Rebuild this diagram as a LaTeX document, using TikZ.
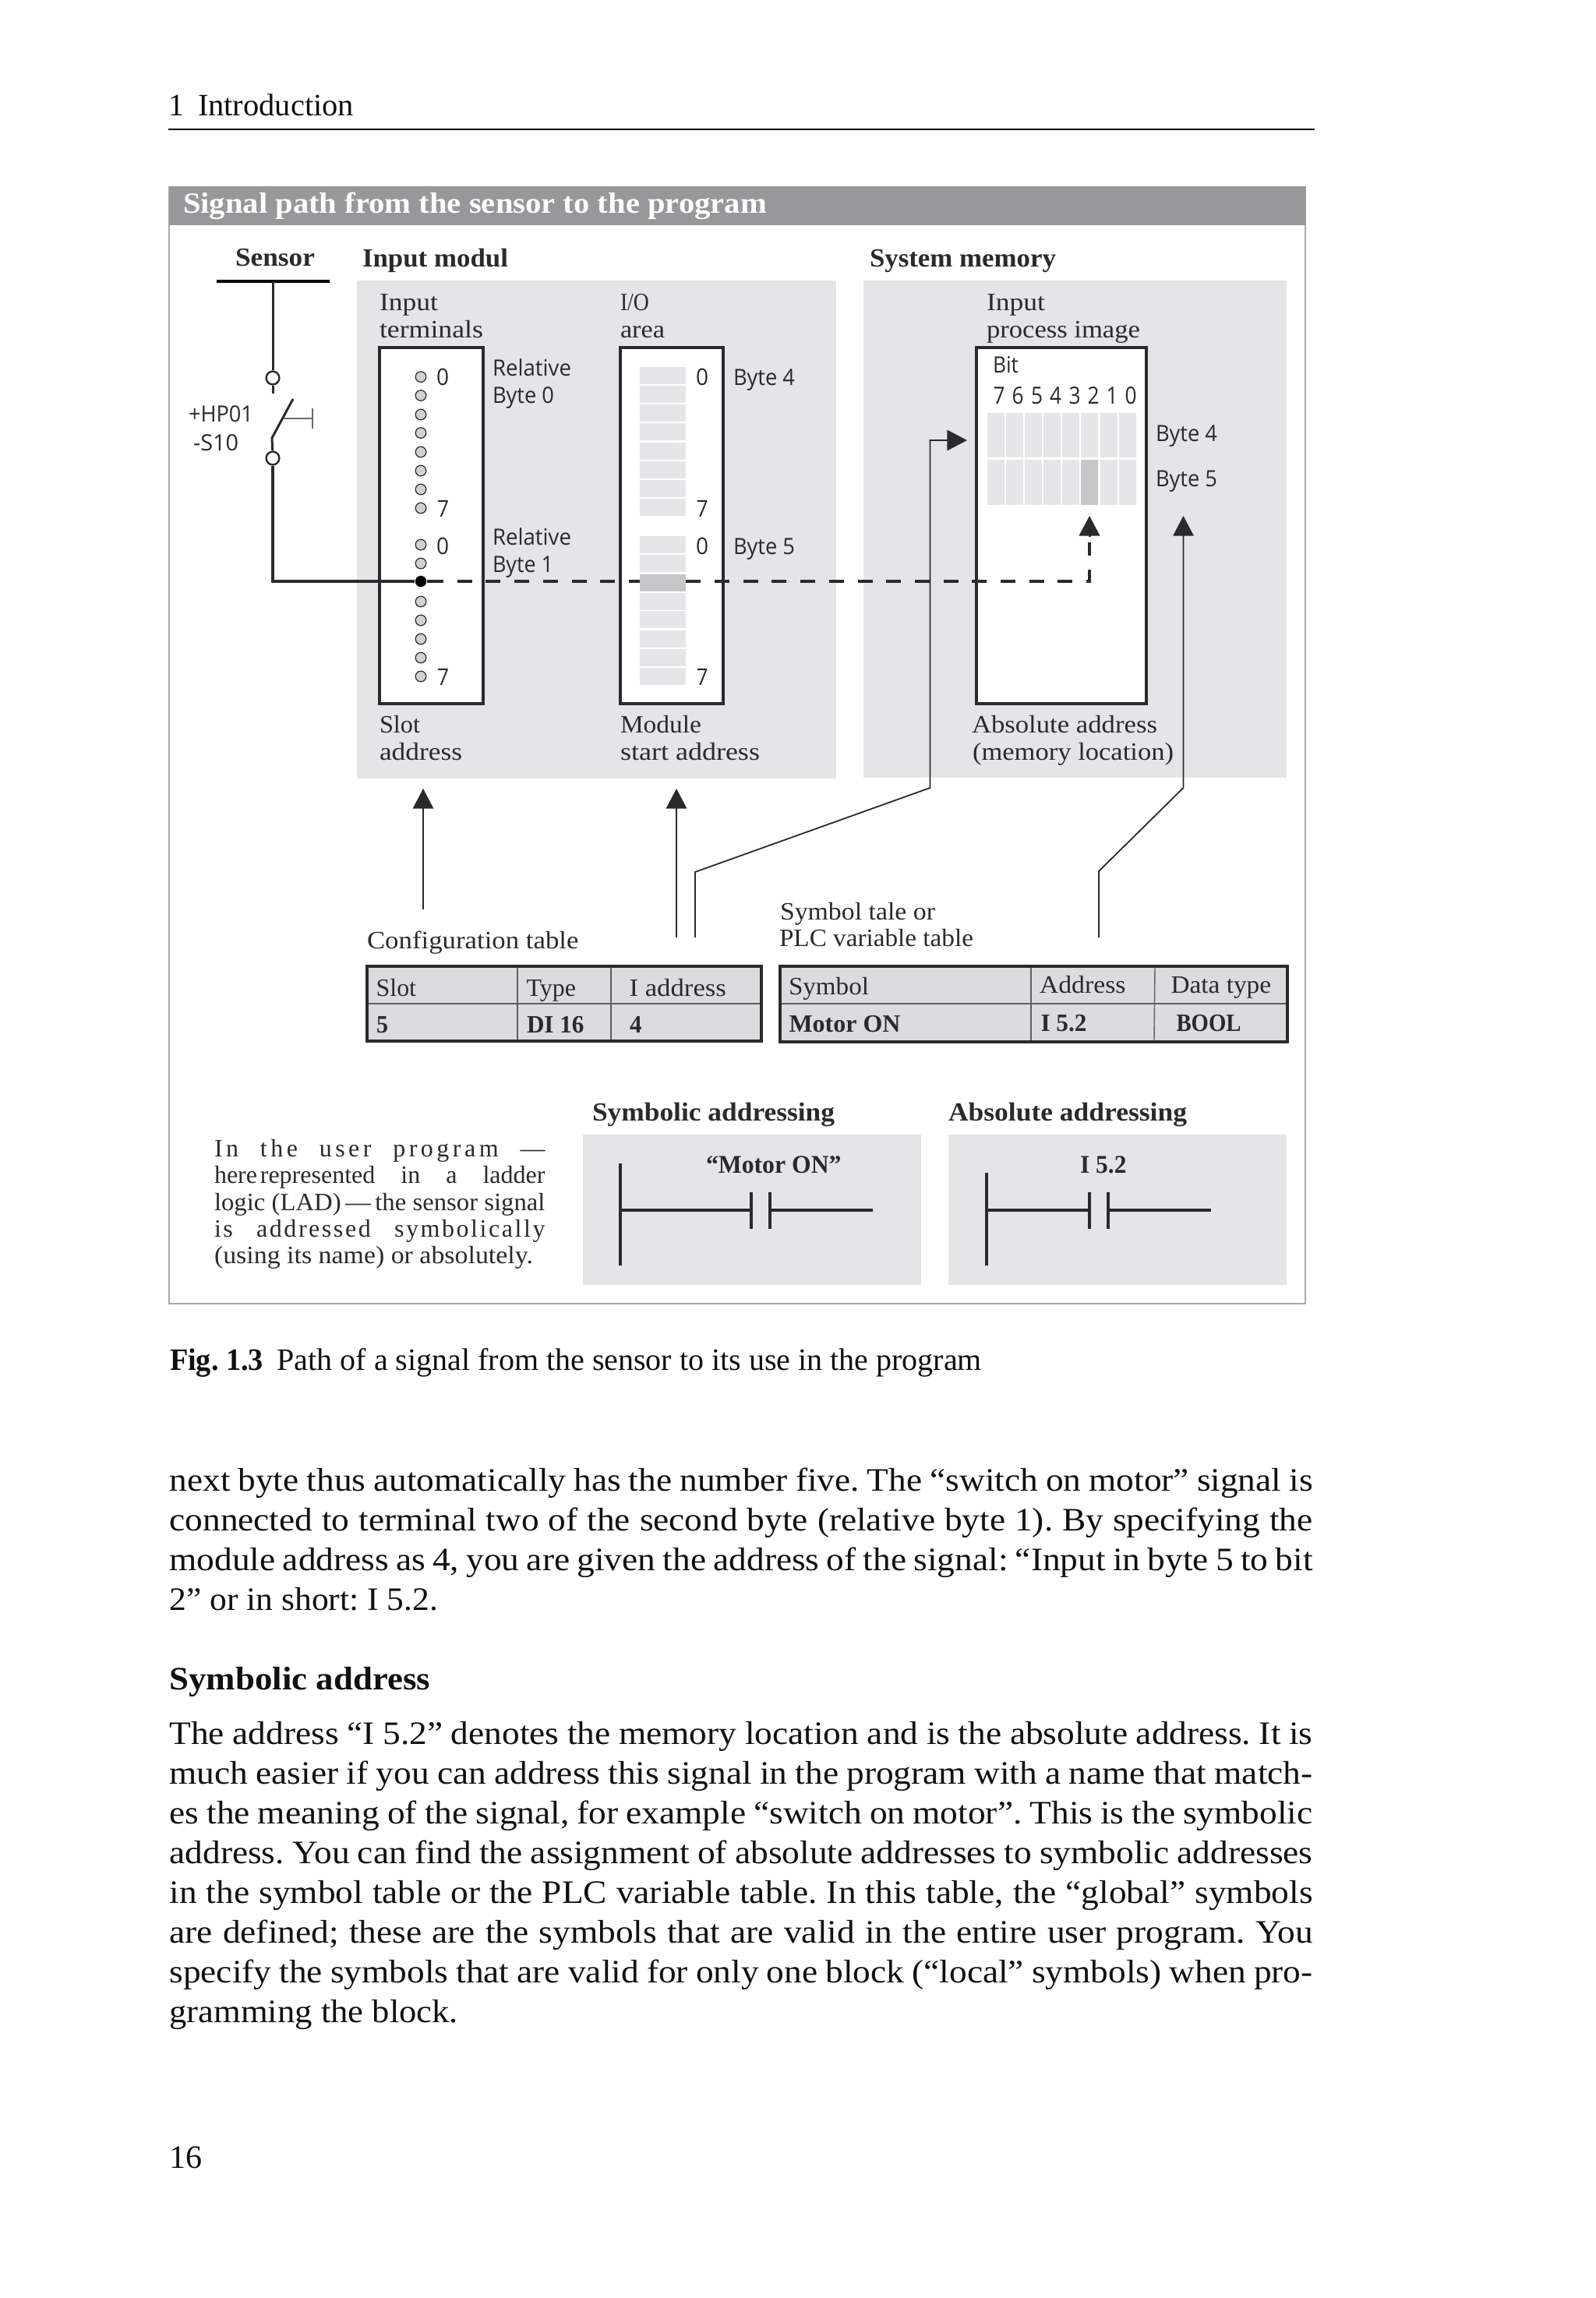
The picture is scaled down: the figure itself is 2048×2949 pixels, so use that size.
\documentclass[tikz,border=0pt]{standalone}
\usepackage{graphicx}
\usepackage{fontspec}
\usetikzlibrary{arrows.meta}
\setmainfont{Liberation Serif}
\newfontfamily\bodyf[FakeStretch=1.08]{Liberation Serif}
\newfontfamily\labsans{Open Sans}
\newlength\pxu \setlength\pxu{0.25pt}
\frenchspacing
\definecolor{panelc}{HTML}{E5E5E8}
\definecolor{cellc}{HTML}{E6E6E8}
\definecolor{darkc}{HTML}{C6C6C8}
\definecolor{tablec}{HTML}{DCDCDE}
\definecolor{barc}{HTML}{98989B}
\definecolor{framec}{HTML}{A8A8AA}
\definecolor{inkc}{HTML}{2A2A2C}
\definecolor{bodyc}{HTML}{101012}
\tikzset{
  txt/.style={anchor=base west,inner sep=0pt,outer sep=0pt},
  wire/.style={draw=inkc,line width=0.75pt},
  thin wire/.style={draw=inkc,line width=0.45pt},
  rule wire/.style={draw=black,line width=0.7pt},
  dashwire/.style={draw=inkc,line width=0.85pt,dash pattern=on 4.75pt off 4.425pt},
  tipped/.style={-{Triangle[length=6.4pt,width=6.6pt]}},
  tbl/.style={draw=inkc,line width=1.05pt,fill=tablec},
  tline/.style={draw=inkc!75,line width=0.35pt},
  boxed/.style={draw=inkc,line width=1pt,fill=white},
  term/.style={circle,draw=inkc,line width=0.3pt,fill=black!18,minimum size=3.4pt,inner sep=0pt},
  contact/.style={circle,draw=inkc,line width=0.6pt,fill=white,minimum size=4.2pt,inner sep=0pt},
  sigdot/.style={circle,fill=black,minimum size=3.6pt,inner sep=0pt},
  ladder/.style={draw=inkc,line width=0.85pt}
}
% #1 name, #2 x, #3 baseline y, #4 width px, #5 font size pt, #6 font, #7 text
\newcommand\T[7]{\node[txt] (#1) at (#2,#3) {\fontsize{#5pt}{#5pt}\selectfont #6\resizebox{#4\pxu}{\height}{#7}};}
\newcommand\LS{\color{inkc}\labsans}
\newcommand\LR{\color{inkc}\rmfamily}
\newcommand\LB{\color{inkc}\rmfamily\bfseries}
\newcommand\BO{\color{bodyc}\bodyf}
\newcommand\BB{\color{bodyc}\bodyf\bfseries}
\newcommand\J[3]{\node[txt] (#1) at (217.5,#2) {\fontsize{10.5pt}{10.5pt}\selectfont\color{bodyc}\bodyf\makebox[1467\pxu][s]{#3}};}
\newcommand\R[6]{\node[inner sep=0pt,outer sep=0pt,minimum width={(#4-#2)*0.25pt},minimum height={(#5-#3)*0.25pt},#6] (#1) at ({(#2+#4)/2},{(#3+#5)/2}) {};}
\newcommand\Lad[7]{%
  \coordinate (#1a) at (#2,#3); \coordinate (#1b) at (#2,1624); \coordinate (#1c) at (#2,1553);
  \coordinate (#1d) at (#4,1553); \coordinate (#1e) at (#5,1553); \coordinate (#1f) at (#6,1553);
  \coordinate (#1g) at (#4,1529.5); \coordinate (#1h) at (#4,1577); \coordinate (#1i) at (#5,1529.5); \coordinate (#1j) at (#5,1577);
  \draw[ladder] (#1a) -- (#1b); \draw[ladder] (#1c) -- (#1d); \draw[ladder] (#1e) -- (#1f);
  \draw[ladder] (#1g) -- (#1h); \draw[ladder] (#1i) -- (#1j);}
\begin{document}
\begin{tikzpicture}[x=0.25pt,y=-0.25pt]
\useasboundingbox[fill=white] (0,0) rectangle (2048,2949);
% page head
\T{headn}{216}{148}{20}{10}{\BO}{1}
\T{headt}{254}{148}{200}{10}{\BO}{Introduction}
\coordinate (ruleL) at (216,166); \coordinate (ruleR) at (1687,166);
\draw[rule wire] (ruleL) -- (ruleR);
% frame and title bar
\R{frame}{217}{240}{1675}{1673}{draw=framec,line width=0.5pt}
\R{bar}{216.5}{239}{1675.5}{289}{fill=barc}
\T{title}{235}{273}{749}{9.4}{\color{white}\rmfamily\bfseries}{Signal path from the sensor to the program}
% panels
\R{panelA}{458}{360}{1073}{999}{fill=panelc}
\R{panelB}{1108}{360}{1651}{998}{fill=panelc}
\R{panelC}{748}{1456}{1182}{1649}{fill=panelc}
\R{panelD}{1217}{1456}{1651}{1649}{fill=panelc}
% headings
\T{hsens}{302}{341}{102}{8.4}{\LB}{Sensor}
\T{hinp}{465}{342}{187}{8.4}{\LB}{Input modul}
\T{hsys}{1116}{342}{239}{8.4}{\LB}{System memory}
% boxes
\R{boxA}{487}{446}{620}{903}{boxed}
\R{boxB}{796}{446}{928}{903}{boxed}
\R{boxC}{1253}{446}{1471}{903}{boxed}
% labels over panels
\T{l1a}{487}{398}{75}{8}{\LR}{Input}
\T{l1b}{487}{433}{133}{8}{\LR}{terminals}
\T{l2a}{796}{398}{37}{8}{\LR}{I/O}
\T{l2b}{796}{433}{57}{8}{\LR}{area}
\T{l3a}{1266}{398}{75}{8}{\LR}{Input}
\T{l3b}{1266}{433}{197}{8}{\LR}{process image}
\T{l4a}{487}{940}{52}{8}{\LR}{Slot}
\T{l4b}{487}{975}{106}{8}{\LR}{address}
\T{l5a}{796}{940}{104}{8}{\LR}{Module}
\T{l5b}{796}{975}{179}{8}{\LR}{start address}
\T{l6a}{1247}{940}{238}{8}{\LR}{Absolute address}
\T{l6b}{1248}{975}{258}{8}{\LR}{(memory location)}
\T{rb0a}{632}{482.5}{101}{7.2}{\LS}{Relative}
\T{rb0b}{632}{517}{79}{7.2}{\LS}{Byte 0}
\T{rb1a}{632}{699}{101}{7.2}{\LS}{Relative}
\T{rb1b}{632}{734}{78}{7.2}{\LS}{Byte 1}
\T{by4}{941}{494}{79}{7.2}{\LS}{Byte 4}
\T{by5}{941}{711}{79}{7.2}{\LS}{Byte 5}
\T{d1}{560}{494}{16}{7.4}{\LS}{0}
\T{d2}{561}{663}{15}{7.4}{\LS}{7}
\T{d3}{560}{711}{16}{7.4}{\LS}{0}
\T{d4}{561}{879}{15}{7.4}{\LS}{7}
\T{d5}{893}{494}{16}{7.4}{\LS}{0}
\T{d6}{893.5}{663}{15}{7.4}{\LS}{7}
\T{d7}{893}{711}{16}{7.4}{\LS}{0}
\T{d8}{893.5}{879}{15}{7.4}{\LS}{7}
\T{bit}{1274}{478}{33}{7.2}{\LS}{Bit}
\foreach \lab/\xx in {7/1274.5,6/1298.5,5/1323,4/1347,3/1371.5,2/1395.5,1/1419.5,0/1443.5}
  \T{bd\lab}{\xx}{518.5}{15}{7.6}{\LS}{\lab};
\T{by4b}{1483}{566.5}{79}{7.2}{\LS}{Byte 4}
\T{by5b}{1483}{624}{79}{7.2}{\LS}{Byte 5}
\T{hp}{242}{541}{83}{7.2}{\LS}{+HP01}
\T{s10}{248}{578}{58}{7.2}{\LS}{-S10}
% sensor circuit
\coordinate (barL) at (278,361); \coordinate (barR) at (423,361); \coordinate (barM) at (350,361);
\draw[rule wire,line width=0.8pt] (barL) -- (barR);
\node[contact] (c1) at (350,485) {};
\node[contact] (c2) at (350,588) {};
\coordinate (c1e) at (350,505); \coordinate (bladeA) at (349,562); \coordinate (bladeB) at (376,512);
\coordinate (actA) at (364,537); \coordinate (actB) at (401,537); \coordinate (actC) at (401,524); \coordinate (actD) at (401,550);
\draw[wire] (barM) -- (c1);
\draw[wire] (c1) -- (c1e);
\draw[wire] (c2) -- (bladeA) -- (bladeB);
\draw[draw=inkc!70,line width=0.3pt] (actA) -- (actB);
\draw[draw=inkc!70,line width=0.3pt] (actC) -- (actD);
% terminals
\foreach \i/\yy in {0/483.6,1/507.5,2/532,3/555.5,4/580,5/604,6/628,7/652,8/699,9/723,11/772,12/796,13/820,14/844,15/868}
  \node[term] (t\i) at (540,\yy) {};
\node[sigdot] (sig) at (540,746) {};
\coordinate (dashstart) at (550,746);
\coordinate (bend) at (1398,746); \coordinate (dashend) at (1398,696);
\coordinate (headbase) at (1398,689); \coordinate (headtip) at (1398,662);
\draw[wire,line width=0.85pt] (c2) |- (sig);
\draw[wire,line width=0.85pt] (sig) -- (dashstart);
\draw[dashwire] (dashstart) -- (bend) -- (dashend);
\draw[wire,tipped] (headbase) -- (headtip);
% I/O area cells
\foreach \yy in {471,495,519.3,543.3,567.8,591.7,616.2,640.2,688,712,760.6,784,808.6,833,857}
  \fill[cellc] (821,\yy) rectangle (880,\yy+22);
\R{iobit}{821}{736.6}{880}{758.6}{fill=darkc}
% process image cells
\foreach \xx in {1266.6,1290.8,1315.3,1339,1363,1387.2,1411.8,1435.5}{
  \fill[cellc] (\xx,530) rectangle (\xx+22,587);
  \fill[cellc] (\xx,590) rectangle (\xx+22,648);}
\R{membit}{1387.2}{590}{1409.2}{648}{fill=darkc}
% upward connectors
\coordinate (a1s) at (543,1167); \coordinate (a1t) at (543,1012);
\coordinate (a2s) at (868,1203); \coordinate (a2t) at (868,1012);
\coordinate (a3s) at (892,1203); \coordinate (a3b) at (892,1119); \coordinate (a3c) at (1193.5,1011); \coordinate (a3d) at (1193.5,565); \coordinate (a3t) at (1241,565);
\coordinate (a4s) at (1410,1203); \coordinate (a4b) at (1410,1118); \coordinate (a4c) at (1518.5,1011); \coordinate (a4t) at (1518.5,662);
\draw[thin wire,tipped] (a1s) -- (a1t);
\draw[thin wire,tipped] (a2s) -- (a2t);
\draw[thin wire,tipped] (a3s) -- (a3b) -- (a3c) -- (a3d) -- (a3t);
\draw[thin wire,tipped] (a4s) -- (a4b) -- (a4c) -- (a4t);
% configuration table
\T{cfg}{471}{1217}{271.5}{8}{\LR}{Configuration table}
\R{tabA}{471}{1240}{977}{1336}{tbl}
\coordinate (ta1) at (473,1288); \coordinate (ta2) at (975,1288);
\coordinate (ta3) at (664,1242); \coordinate (ta4) at (664,1334);
\coordinate (ta5) at (784,1242); \coordinate (ta6) at (784,1334);
\draw[tline] (ta1) -- (ta2); \draw[tline] (ta3) -- (ta4); \draw[tline] (ta5) -- (ta6);
\T{c1}{482.6}{1278}{51.5}{8}{\LR}{Slot}
\T{c2}{675.5}{1278}{63.5}{8}{\LR}{Type}
\T{c3}{807.5}{1278}{124.5}{8}{\LR}{I address}
\T{c4}{483}{1325}{15}{8}{\LB}{5}
\T{c5}{676}{1325}{73.5}{8}{\LB}{DI 16}
\T{c6}{808}{1325}{15.5}{8}{\LB}{4}
% symbol table
\T{sym1}{1001}{1180}{199}{8}{\LR}{Symbol tale or}
\T{sym2}{1000}{1214}{249}{8}{\LR}{PLC variable table}
\R{tabB}{1001}{1240}{1652}{1337}{tbl}
\coordinate (tb1) at (1003,1288); \coordinate (tb2) at (1650,1288);
\coordinate (tb3) at (1323,1242); \coordinate (tb4) at (1323,1335);
\coordinate (tb5) at (1482,1242); \coordinate (tb6) at (1481,1335);
\draw[tline] (tb1) -- (tb2); \draw[tline] (tb3) -- (tb4); \draw[tline] (tb5) -- (tb6);
\T{s1}{1012}{1276}{103}{8}{\LR}{Symbol}
\T{s2}{1334}{1274.5}{110.5}{8}{\LR}{Address}
\T{s3}{1502.6}{1274.5}{128.5}{8}{\LR}{Data type}
\T{s4}{1012.5}{1324.5}{143}{8}{\LB}{Motor ON}
\T{s5}{1335.5}{1323}{59}{8}{\LB}{I 5.2}
\T{s6}{1509.5}{1323}{83}{8}{\LB}{BOOL}
% addressing
\T{ha}{760}{1438}{311}{8.4}{\LB}{Symbolic addressing}
\T{hb}{1217}{1438}{306}{8.4}{\LB}{Absolute addressing}
\T{la}{906}{1505}{173.5}{8.2}{\LB}{“Motor ON”}
\T{lb}{1386}{1505}{59.5}{8.2}{\LB}{I 5.2}
\Lad{L}{796}{1493}{964}{988}{1120}{}
\Lad{M}{1266}{1505}{1398}{1422}{1554}{}
% side paragraph
\node[txt] (p1) at (275,1484) {\fontsize{8pt}{8pt}\selectfont\LR\makebox[424.5\pxu][s]{\addfontfeature{LetterSpace=14}In the user program —}};
\node[txt] (p2) at (275,1518) {\fontsize{8pt}{8pt}\selectfont\LR\makebox[424.5\pxu][s]{here\kern 0.12em represented\hfil in\hfil a\hfil ladder}};
\T{p3}{275}{1553}{424.5}{8}{\LR}{logic (LAD)\,—\,the sensor signal}
\node[txt] (p4) at (275,1587) {\fontsize{8pt}{8pt}\selectfont\LR\makebox[424.5\pxu][s]{\addfontfeature{LetterSpace=8}is addressed symbolically}};
\T{p5}{275}{1621}{409}{8}{\LR}{(using its name) or absolutely.}
% caption
\T{capa}{218}{1758.7}{120}{10}{\BB}{Fig. 1.3}
\T{capb}{355.6}{1758.7}{904.4}{10}{\BO}{Path of a signal from the sensor to its use in the program}
% body text
\J{b1}{1913}{next byte thus automatically has the number five. The “switch on motor” signal is}
\J{b2}{1964}{connected to terminal two of the second byte (relative byte 1). By specifying the}
\J{b3}{2015}{module address as 4, you are given the address of the signal: “Input in byte 5 to bit}
\T{b4}{217.5}{2066}{344.5}{10.5}{\BO}{2” or in short: I 5.2.}
\T{b5}{217.5}{2168}{334.5}{10.5}{\BB}{Symbolic address}
\J{b6}{2238}{The address “I 5.2” denotes the memory location and is the absolute address. It is}
\J{b7}{2289}{much easier if you can address this signal in the program with a name that match-}
\J{b8}{2340}{es the meaning of the signal, for example “switch on motor”. This is the symbolic}
\J{b9}{2391}{address. You can find the assignment of absolute addresses to symbolic addresses}
\J{b10}{2442}{in the symbol table or the PLC variable table. In this table, the “global” symbols}
\J{b11}{2493}{are defined; these are the symbols that are valid in the entire user program. You}
\J{b12}{2544}{specify the symbols that are valid for only one block (“local” symbols) when pro-}
\T{b13}{217.5}{2595}{370.5}{10.5}{\BO}{gramming the block.}
\T{pg}{217}{2782}{42}{10.5}{\BO}{16}
\end{tikzpicture}
\end{document}
